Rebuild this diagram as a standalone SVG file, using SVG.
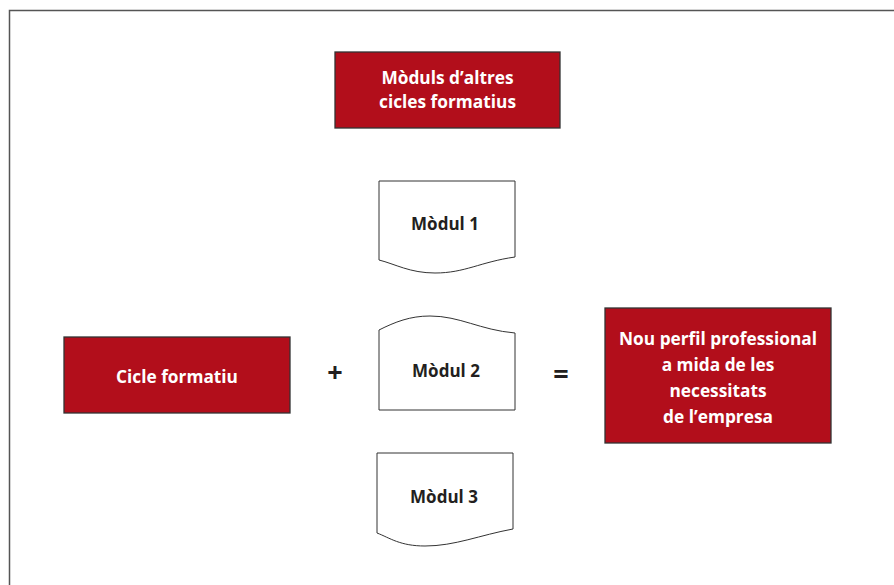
<svg xmlns="http://www.w3.org/2000/svg" width="894" height="585" viewBox="0 0 894 585">
<style>
.red{fill:#b20e1b;stroke:#333;stroke-width:1.3}
.doc{fill:#fff;stroke:#333;stroke-width:1}
.wt{fill:#fff;font-family:"Open Sans","Noto Sans",sans-serif;font-weight:700;font-size:17.3px;text-anchor:middle}
.bt{fill:#231f20;font-family:"Open Sans","Noto Sans",sans-serif;font-weight:700;font-size:17px;text-anchor:middle}
.op{fill:#231f20;font-family:"Open Sans","Noto Sans",sans-serif;font-weight:700;font-size:27px;text-anchor:middle}
</style>
<rect width="894" height="585" fill="#fff"/>
<path d="M9.5 590 V10.5 H900" fill="none" stroke="#555" stroke-width="1.5"/>
<g id="node-moduls-altres">
<rect class="red" x="335" y="52" width="225" height="76"/>
<text class="wt" x="447.5" y="84">Mòduls d’altres</text>
<text class="wt" x="447.5" y="108">cicles formatius</text>
</g>
<g id="node-modul1">
<path class="doc" d="M379 181 H515 V257 C480 262 465 273 435 273 C410 273 395 264 379 260 Z"/>
<text class="bt" x="445" y="230">Mòdul 1</text>
</g>
<g id="node-modul2">
<path class="doc" d="M379 330 C395 322 410 316 430 316 C460 316 480 330 515 333 V410 H379 Z"/>
<text class="bt" x="446" y="377">Mòdul 2</text>
</g>
<g id="node-modul3">
<path class="doc" d="M377 453 H513 V529 C480 535 455 546 425 546 C400 546 390 538 377 533 Z"/>
<text class="bt" x="444" y="503">Mòdul 3</text>
</g>
<g id="node-cicle">
<rect class="red" x="64" y="337" width="226" height="76"/>
<text class="wt" x="177" y="383">Cicle formatiu</text>
</g>
<g id="node-perfil">
<rect class="red" x="605" y="308" width="226" height="135"/>
<text class="wt" x="718" y="345">Nou perfil professional</text>
<text class="wt" x="718" y="371">a mida de les</text>
<text class="wt" x="718" y="397">necessitats</text>
<text class="wt" x="718" y="423">de l’empresa</text>
</g>
<g id="connectors">
<text class="op" x="335" y="382">+</text>
<text class="op" x="561" y="384">=</text>
</g>
</svg>
